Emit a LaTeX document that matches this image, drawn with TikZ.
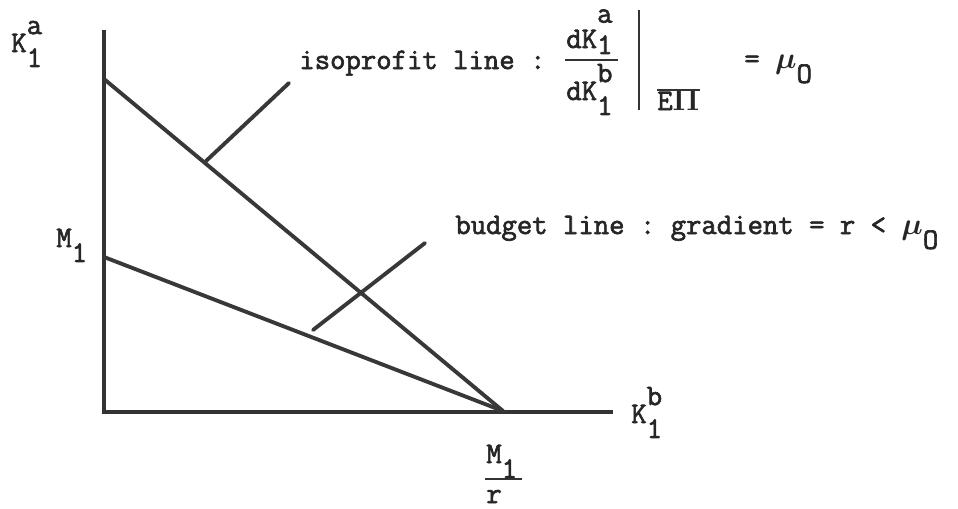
\documentclass[tikz,border=0pt]{standalone}
\usepackage{fontspec}
\setmonofont{Latin Modern Mono}[AutoFakeBold=2.2]
\usetikzlibrary{positioning}
\newcommand\supsub[2]{\rlap{\raisebox{.6em}{#1}}\raisebox{-.5em}{#2}}
\newcommand\lowsub[1]{\raisebox{-.5em}{#1}}

\begin{document}
\begin{tikzpicture}[
    x=0.02cm, y=-0.02cm,
    axis/.style={line width=2.6pt, black!80},
    ray/.style={line width=2.2pt, black!78, line cap=round},
    rule/.style={line width=1.1pt, black!80},
    lbl/.style={font=\fontsize{17}{20}\ttfamily\bfseries\boldmath\selectfont, text=black!85, inner sep=0pt, anchor=base west}
  ]
    \useasboundingbox (0,0) rectangle (958,508);
    % axes and lines
    \coordinate (ytop) at (104,30);
    \coordinate (orig) at (104,412);
    \coordinate (xend) at (613,412);
    \coordinate (isoA) at (104,79);
    \coordinate (budA) at (104,257);
    \coordinate (meet) at (503,411);
    \draw[axis] (ytop) -- (orig) -- (xend);
    \draw[ray] (isoA) -- (meet);
    \draw[ray] (budA) -- (meet);
    % pointers
    \coordinate (isoP) at (205,162);
    \coordinate (isoQ) at (289,83);
    \coordinate (budP) at (313,330);
    \coordinate (budQ) at (425,243);
    \draw[ray] (isoP) -- (isoQ);
    \draw[ray] (budP) -- (budQ);
    % axis labels
    \node[lbl] (ka) at (11,52) {K\supsub{a}{1}};
    \node[lbl] (m1) at (56,247) {M\lowsub{1}};
    \node[lbl] (kb) at (631,423) {K\supsub{b}{1}};
    \node[lbl] (mnum) at (486,463) {M\lowsub{1}};
    \node[lbl] (mden) at (486,503) {r};
    \draw[rule] (485,479) -- (522,479);
    % isoprofit label
    \node[lbl] (iso) at (299,69) {isoprofit line :};
    \node[lbl] (num) at (566,48) {dK\rlap{\raisebox{.85em}{a}}\raisebox{-.2em}{1}};
    \node[lbl] (den) at (566,100) {dK\supsub{b}{1}};
    \draw[rule] (565,60) -- (618,60);
    \draw[line width=1.6pt, black!80] (639,10) -- (639,110);
    \node[lbl] (ep) at (657,110) {E$\Pi$};
    \draw[rule] (657,90) -- (700,90);
    \node[lbl] (mu) at (744,68) {= $\mu$\lowsub{O}};
    % budget label
    \node[lbl] (bud) at (455,234) {budget line : gradient = r < $\mu$\lowsub{O}};
  \end{tikzpicture}
\end{document}
